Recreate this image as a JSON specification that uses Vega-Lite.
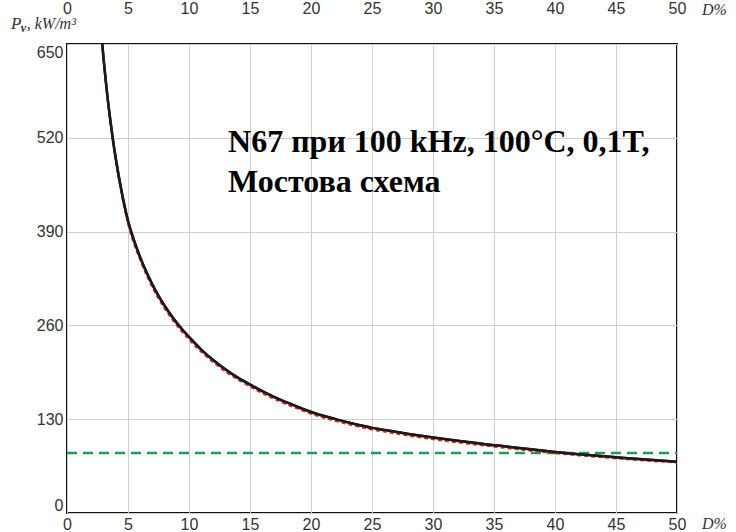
{
  "$schema": "https://vega.github.io/schema/vega-lite/v6.json",
  "width": 610,
  "height": 469,
  "autosize": {"type": "none"},
  "padding": {"left": 67, "top": 44, "right": 59, "bottom": 19},
  "background": "white",
  "config": {
    "view": {"stroke": "#111", "strokeWidth": 2},
    "axis": {"ticks": false, "tickSize": 0, "domain": false, "labelFont": "Liberation Sans", "labelFontSize": 16, "labelColor": "#333", "gridColor": "#d0d0d0", "gridWidth": 1, "title": null}
  },
  "datasets": {
    "model": [
      {"D": 2.89, "P": 650}, {"D": 3.0, "P": 629}, {"D": 3.25, "P": 587}, {"D": 3.5, "P": 551}, {"D": 3.75, "P": 519},
      {"D": 4.0, "P": 491}, {"D": 4.5, "P": 443.6}, {"D": 5.0, "P": 405}, {"D": 5.5, "P": 377.5}, {"D": 6.0, "P": 354.3},
      {"D": 6.5, "P": 334.2}, {"D": 7.0, "P": 316.6}, {"D": 7.5, "P": 301}, {"D": 8.0, "P": 287.2}, {"D": 8.5, "P": 274.8},
      {"D": 9.0, "P": 263.5}, {"D": 9.5, "P": 253.3}, {"D": 10, "P": 244}, {"D": 11, "P": 226.5}, {"D": 12, "P": 211.6},
      {"D": 13, "P": 198.9}, {"D": 14, "P": 187.7}, {"D": 15, "P": 178}, {"D": 16, "P": 168.8}, {"D": 17, "P": 160.6},
      {"D": 18, "P": 153.2}, {"D": 19, "P": 146.6}, {"D": 20, "P": 140}, {"D": 22, "P": 130.1}, {"D": 24, "P": 121.7},
      {"D": 25, "P": 118}, {"D": 26, "P": 115.2}, {"D": 28, "P": 109.6}, {"D": 30, "P": 104.5}, {"D": 32, "P": 100},
      {"D": 34, "P": 96}, {"D": 35, "P": 94}, {"D": 36, "P": 92.2}, {"D": 38, "P": 88.2}, {"D": 40, "P": 84.6},
      {"D": 42, "P": 81.5}, {"D": 44, "P": 78.6}, {"D": 45, "P": 77.2}, {"D": 46, "P": 75.9}, {"D": 48, "P": 73.4}, {"D": 50, "P": 71}
    ],
    "measured": [
      {"D": 2.89, "P": 650}, {"D": 3.0, "P": 628}, {"D": 3.5, "P": 549}, {"D": 4.0, "P": 488}, {"D": 4.5, "P": 440},
      {"D": 5.0, "P": 401}, {"D": 6.0, "P": 350.5}, {"D": 7.0, "P": 313}, {"D": 8.0, "P": 283.5}, {"D": 9.0, "P": 260},
      {"D": 10, "P": 240.5}, {"D": 11, "P": 223.5}, {"D": 12, "P": 208.8}, {"D": 13, "P": 196}, {"D": 14, "P": 185},
      {"D": 15, "P": 175.3}, {"D": 16, "P": 166.2}, {"D": 17, "P": 158}, {"D": 18, "P": 150.6}, {"D": 19, "P": 144},
      {"D": 20, "P": 137.4}, {"D": 22, "P": 127.6}, {"D": 24, "P": 119.3}, {"D": 25, "P": 115.6}, {"D": 26, "P": 112.8},
      {"D": 28, "P": 107.2}, {"D": 30, "P": 102.2}, {"D": 32, "P": 97.8}, {"D": 34, "P": 93.8}, {"D": 36, "P": 90},
      {"D": 38, "P": 86.2}, {"D": 40, "P": 82.8}, {"D": 42, "P": 79.8}, {"D": 44, "P": 77}, {"D": 46, "P": 74.4},
      {"D": 48, "P": 72}, {"D": 50, "P": 69.8}
    ],
    "ref": [{"D": 0, "P": 83}, {"D": 50, "P": 83}]
  },
  "resolve": {"axis": {"x": "independent", "y": "independent"}},
  "layer": [
    {
      "data": {"name": "model"},
      "mark": {"type": "line", "stroke": "#1a1a1a", "strokeWidth": 2.5, "interpolate": "monotone"},
      "encoding": {
        "x": {"field": "D", "type": "quantitative", "scale": {"domain": [0, 50], "nice": false, "zero": false},
              "axis": {"orient": "bottom", "values": [0, 5, 10, 15, 20, 25, 30, 35, 40, 45, 50], "grid": true, "labelFlush": false, "labelPadding": 16, "labelBaseline": "alphabetic"}},
        "y": {"field": "P", "type": "quantitative", "scale": {"domain": [0, 650], "nice": false, "zero": false},
              "axis": {"orient": "left", "values": [0, 130, 260, 390, 520, 650], "grid": true, "labelFlush": true, "labelPadding": 4}}
      }
    },
    {
      "data": {"name": "ref"},
      "mark": {"type": "line", "stroke": "#1f9d55", "strokeWidth": 2.5, "strokeDash": [10, 6]},
      "encoding": {
        "x": {"field": "D", "type": "quantitative", "axis": null},
        "y": {"field": "P", "type": "quantitative", "axis": null}
      }
    },
    {
      "data": {"name": "measured"},
      "mark": {"type": "line", "stroke": "#e0201b", "strokeWidth": 2, "strokeDash": [4, 3], "interpolate": "monotone"},
      "encoding": {
        "x": {"field": "D", "type": "quantitative",
              "axis": {"orient": "top", "values": [0, 5, 10, 15, 20, 25, 30, 35, 40, 45, 50], "grid": false, "labelFlush": false, "labelPadding": 31, "labelBaseline": "alphabetic"}},
        "y": {"field": "P", "type": "quantitative", "axis": null}
      }
    },
    {
      "data": {"name": "model"},
      "mark": {"type": "line", "stroke": "#1a1a1a", "strokeWidth": 2.5, "interpolate": "monotone"},
      "encoding": {
        "x": {"field": "D", "type": "quantitative", "axis": null},
        "y": {"field": "P", "type": "quantitative", "axis": null}
      }
    },
    {
      "data": {"values": [{"D": 13.2, "P": 500.8}]},
      "mark": {"type": "text", "text": ["N67 при 100 kHz, 100°C, 0,1T,", "Мостова схема"], "font": "Liberation Serif", "fontWeight": "bold", "fontSize": 32, "lineHeight": 40, "align": "left", "baseline": "alphabetic", "color": "#000"},
      "encoding": {"x": {"field": "D", "type": "quantitative", "axis": null}, "y": {"field": "P", "type": "quantitative", "axis": null}}
    },
    {
      "data": {"values": [{"D": -4.6, "P": 671}]},
      "mark": {"type": "text", "text": "P", "font": "Liberation Serif", "fontStyle": "italic", "fontSize": 17, "align": "left", "baseline": "alphabetic", "color": "#333"},
      "encoding": {"x": {"field": "D", "type": "quantitative", "axis": null}, "y": {"field": "P", "type": "quantitative", "axis": null}}
    },
    {
      "data": {"values": [{"D": -3.8, "P": 667}]},
      "mark": {"type": "text", "text": "v", "font": "Liberation Serif", "fontStyle": "italic", "fontWeight": "bold", "fontSize": 12, "align": "left", "baseline": "alphabetic", "color": "#333"},
      "encoding": {"x": {"field": "D", "type": "quantitative", "axis": null}, "y": {"field": "P", "type": "quantitative", "axis": null}}
    },
    {
      "data": {"values": [{"D": -3.3, "P": 671}]},
      "mark": {"type": "text", "text": ", kW/m³", "font": "Liberation Serif", "fontStyle": "italic", "fontSize": 16, "align": "left", "baseline": "alphabetic", "color": "#333"},
      "encoding": {"x": {"field": "D", "type": "quantitative", "axis": null}, "y": {"field": "P", "type": "quantitative", "axis": null}}
    },
    {
      "data": {"values": [{"D": 52.05, "P": 690}, {"D": 52.05, "P": -22.2}]},
      "mark": {"type": "text", "text": "D%", "font": "Liberation Serif", "fontStyle": "italic", "fontSize": 16, "align": "left", "baseline": "alphabetic", "color": "#333"},
      "encoding": {"x": {"field": "D", "type": "quantitative", "axis": null}, "y": {"field": "P", "type": "quantitative", "axis": null}}
    }
  ]
}
